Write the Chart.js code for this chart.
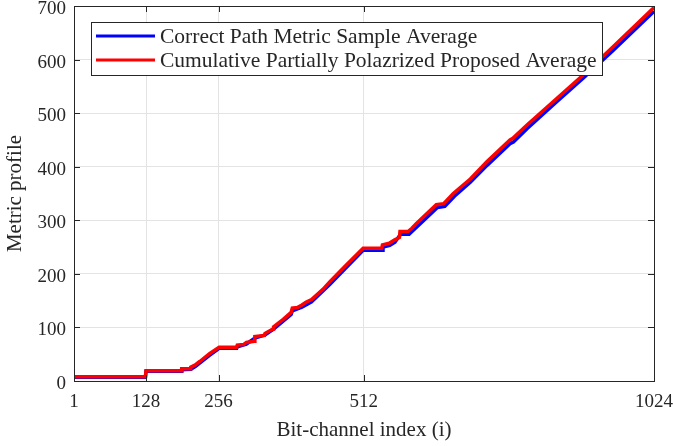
<!DOCTYPE html>
<html>
<head>
<meta charset="utf-8">
<script src="https://cdn.jsdelivr.net/npm/chart.js@4/dist/chart.umd.min.js"></script>
<style>
  html, body { margin: 0; padding: 0; background: #fff; }
  #wrap { width: 673px; height: 446px; }
</style>
</head>
<body>
<div id="wrap"><canvas id="chart1"></canvas></div>
<script>
// axis ticks
var xTicks = [1, 128, 256, 512, 1024];
var yTicks = [0, 100, 200, 300, 400, 500, 600, 700];

// correct path metric, sample average
var blueX = [1, 127, 128, 190, 191, 207, 215, 222, 240, 257, 288, 289, 305, 320, 338, 353, 384, 386, 403, 420, 452, 511, 545, 546, 558, 567, 577, 592, 599, 607, 642, 655, 672, 700, 730, 770, 776, 800, 850, 900, 950, 1024];
var blueY = [7, 7, 18, 18, 21, 22, 27, 33, 48, 61, 61, 64, 69, 80, 86, 97, 124, 131, 138, 148, 180, 244, 244, 250, 253, 259, 274, 274, 281, 289, 324, 326, 345, 371, 403, 443, 446, 471, 519, 566, 615, 690];

// cumulative partially polarized, proposed average
var redX = [1, 127, 128, 190, 191, 206, 207, 215, 222, 225, 240, 257, 288, 289, 300, 305, 319, 320, 337, 338, 352, 353, 370, 384, 386, 395, 403, 410, 420, 440, 452, 480, 511, 544, 545, 557, 566, 575, 576, 590, 597, 605, 640, 653, 670, 700, 730, 770, 775, 800, 850, 900, 950, 1024];
var redY = [8, 8, 19, 19, 23, 23, 26, 30, 36, 38, 51, 63, 63, 67, 68, 72, 74, 83, 85, 89, 97, 101, 115, 128, 136, 137, 142, 147, 152, 171, 185, 215, 248, 248, 254, 257, 263, 268, 279, 279, 285, 294, 329, 331, 350, 377, 410, 450, 453, 478, 525, 572, 622, 697];

var seriesNames = ['Correct Path Metric Sample Average', 'Cumulative Partially Polazrized Proposed Average'];
var seriesColors = ['#0000ff', '#ff0000'];

function toPoints(xs, ys) {
  return xs.map(function (x, i) { return { x: x, y: ys[i] }; });
}

var serif = "'Liberation Serif', 'Times New Roman', serif";
var axisColor = '#262626';

// box around the plot with inward ticks, plus legend inside
var boxPlugin = {
  id: 'box',
  afterDraw: function (chart) {
    var ctx = chart.ctx, a = chart.chartArea;
    var xs = chart.scales.x, ys = chart.scales.y;
    ctx.save();
    ctx.strokeStyle = axisColor;
    ctx.lineWidth = 1;
    ctx.strokeRect(a.left + 0.5, a.top + 0.5, a.right - a.left, a.bottom - a.top);
    ctx.beginPath();
    xTicks.forEach(function (t) {
      var px = Math.round(xs.getPixelForValue(t)) + 0.5;
      ctx.moveTo(px, a.bottom); ctx.lineTo(px, a.bottom - 6);
      ctx.moveTo(px, a.top); ctx.lineTo(px, a.top + 6);
    });
    yTicks.forEach(function (t) {
      var py = Math.round(ys.getPixelForValue(t)) + 0.5;
      ctx.moveTo(a.left, py); ctx.lineTo(a.left + 6, py);
      ctx.moveTo(a.right, py); ctx.lineTo(a.right - 6, py);
    });
    ctx.stroke();

    // legend
    var lx = 91, ly = 22, lw = 511, lh = 53;
    ctx.fillStyle = '#fff';
    ctx.fillRect(lx, ly, lw, lh);
    ctx.strokeStyle = axisColor;
    ctx.strokeRect(lx + 0.5, ly + 0.5, lw, lh);
    ctx.font = '21.5px ' + serif;
    ctx.textBaseline = 'middle';
    seriesNames.forEach(function (name, i) {
      var y = ly + 14 + i * 24;
      ctx.strokeStyle = seriesColors[i];
      ctx.lineWidth = 3;
      ctx.beginPath();
      ctx.moveTo(96, y); ctx.lineTo(155, y);
      ctx.stroke();
      ctx.fillStyle = '#262626';
      ctx.fillText(name, 160, y + 1);
    });
    ctx.restore();
  }
};

var ctx1 = document.getElementById('chart1').getContext('2d');
new Chart(ctx1, {
  type: 'line',
  data: {
    datasets: [{
      label: seriesNames[0],
      data: toPoints(blueX, blueY),
      borderColor: seriesColors[0],
      borderWidth: 3.5,
      pointRadius: 0,
      order: 2
    }, {
      label: seriesNames[1],
      data: toPoints(redX, redY),
      borderColor: seriesColors[1],
      borderWidth: 3.5,
      pointRadius: 0,
      order: 1
    }]
  },
  options: {
    responsive: true,
    maintainAspectRatio: false,
    animation: false,
    layout: { padding: { top: 6, right: 19, left: 0, bottom: 0 } },
    plugins: { legend: { display: false }, tooltip: { enabled: false } },
    scales: {
      x: {
        type: 'linear',
        min: 1,
        max: 1024,
        afterBuildTicks: function (axis) {
          axis.ticks = xTicks.map(function (v) { return { value: v }; });
        },
        afterFit: function (axis) {
          axis.height = 65;
          axis.paddingLeft = 0;
          axis.paddingRight = 0;
        },
        grid: { color: '#e3e3e3', drawTicks: false },
        border: { display: false },
        ticks: {
          autoSkip: false,
          maxRotation: 0,
          padding: 10,
          color: '#262626',
          font: { family: serif, size: 19 },
          callback: function (v) { return String(v); }
        },
        title: {
          display: true,
          text: 'Bit-channel index (i)',
          color: '#262626',
          padding: { top: 3, bottom: 3 },
          font: { family: serif, size: 21 }
        }
      },
      y: {
        min: 0,
        max: 700,
        afterBuildTicks: function (axis) {
          axis.ticks = yTicks.map(function (v) { return { value: v }; });
        },
        afterFit: function (axis) {
          axis.width = 74;
          axis.paddingTop = 0;
          axis.paddingBottom = 0;
        },
        grid: { color: '#e3e3e3', drawTicks: false },
        border: { display: false },
        ticks: {
          padding: 8,
          labelOffset: 3,
          color: '#262626',
          font: { family: serif, size: 19 },
          callback: function (v) { return String(v); }
        },
        title: {
          display: true,
          text: 'Metric profile',
          color: '#262626',
          padding: { top: 3, bottom: 4 },
          font: { family: serif, size: 21 }
        }
      }
    }
  },
  plugins: [boxPlugin]
});
</script>
</body>
</html>
